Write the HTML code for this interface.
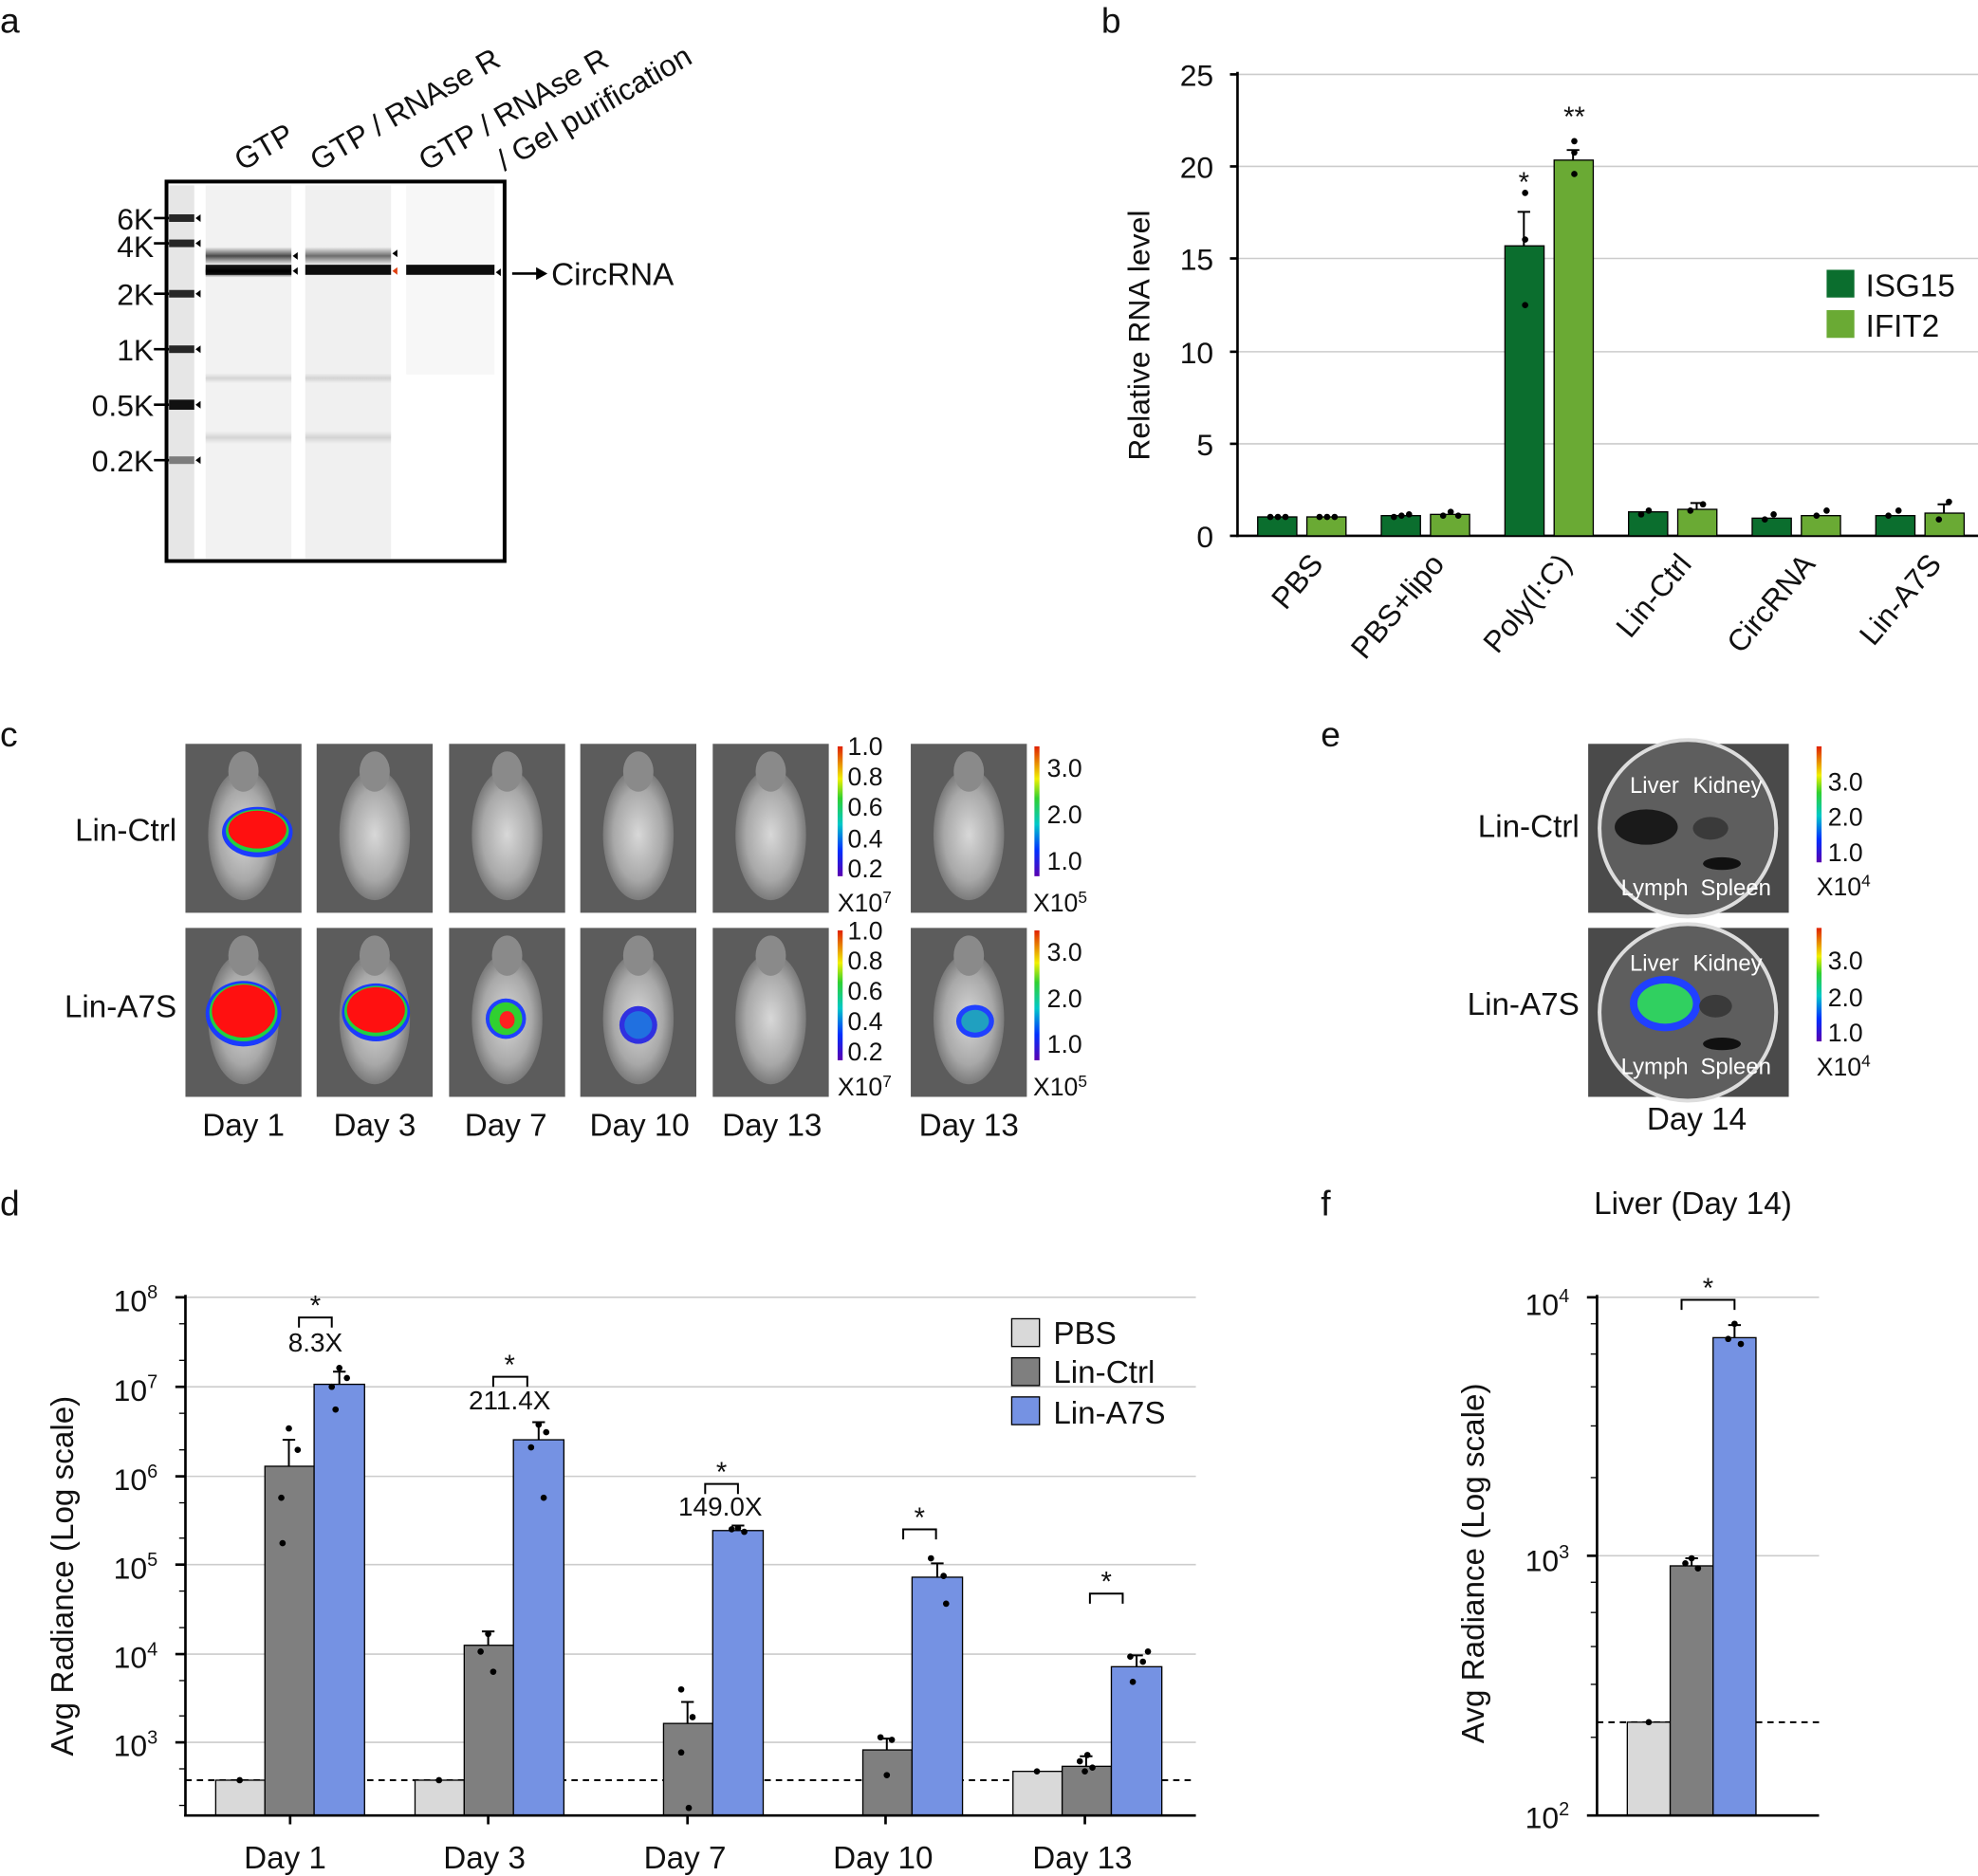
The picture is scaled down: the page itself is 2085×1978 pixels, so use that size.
<!DOCTYPE html>
<html><head><meta charset="utf-8"><style>
html,body{margin:0;padding:0;background:#fff}
svg{display:block}
text{font-family:"Liberation Sans",sans-serif;fill:#111}
</style></head><body>
<svg width="2085" height="1978" viewBox="0 0 1568 1488" preserveAspectRatio="none" xmlns="http://www.w3.org/2000/svg">
<defs>
<linearGradient id="cb" x1="0" y1="1" x2="0" y2="0">
<stop offset="0" stop-color="#5a00b0"/><stop offset="0.2" stop-color="#0030ff"/><stop offset="0.4" stop-color="#00c8c8"/><stop offset="0.6" stop-color="#30d030"/><stop offset="0.75" stop-color="#f0f000"/><stop offset="1" stop-color="#e02000"/>
</linearGradient>
<radialGradient id="mouse" cx="0.5" cy="0.5" r="0.5"><stop offset="0" stop-color="#d8d8d8"/><stop offset="0.7" stop-color="#a8a8a8"/><stop offset="1" stop-color="#7a7a7a"/></radialGradient>
<linearGradient id="band" x1="0" y1="0" x2="0" y2="1"><stop offset="0" stop-color="#000" stop-opacity="0"/><stop offset="0.5" stop-color="#000"/><stop offset="1" stop-color="#000" stop-opacity="0"/></linearGradient>
</defs>

<!-- ===== Panel a ===== -->
<text x="0" y="26" font-size="28">a</text>
<rect x="132" y="144" width="268" height="301" fill="#fff" stroke="#000" stroke-width="3"/>
<rect x="134" y="147" width="20" height="296" fill="#e6e6e6"/>
<rect x="163" y="147" width="68" height="296" fill="#f2f2f2"/>
<rect x="242" y="147" width="68" height="296" fill="#f0f0f0"/>
<rect x="322" y="147" width="70" height="150" fill="#f7f7f7"/>
<!-- ladder bands -->
<g fill="#111">
<rect x="134" y="170" width="20" height="6" opacity="0.9"/>
<rect x="134" y="190" width="20" height="6" opacity="0.9"/>
<rect x="134" y="230" width="20" height="6" opacity="0.9"/>
<rect x="134" y="274" width="20" height="6" opacity="0.9"/>
<rect x="134" y="317" width="20" height="8"/>
<rect x="134" y="362" width="20" height="6" opacity="0.5"/>
</g>
<g fill="#000">
<rect x="163" y="196" width="68" height="14" fill="url(#band)" opacity="0.7"/>
<rect x="163" y="210" width="68" height="10" fill="url(#band)"/>
<rect x="163" y="210" width="68" height="8" opacity="0.9"/>
<rect x="242" y="196" width="68" height="14" fill="url(#band)" opacity="0.55"/>
<rect x="242" y="210" width="68" height="8" opacity="0.95"/>
<rect x="322" y="210" width="70" height="8" opacity="0.95"/>
<rect x="163" y="296" width="68" height="8" fill="url(#band)" opacity="0.12"/>
<rect x="163" y="342" width="68" height="10" fill="url(#band)" opacity="0.12"/>
<rect x="242" y="296" width="68" height="8" fill="url(#band)" opacity="0.12"/>
<rect x="242" y="342" width="68" height="10" fill="url(#band)" opacity="0.12"/>
</g>
<g fill="#000">
<polygon points="155,173 159,170 159,176"/><polygon points="155,193 159,190 159,196"/><polygon points="155,233 159,230 159,236"/><polygon points="155,277 159,274 159,280"/><polygon points="155,321 159,318 159,324"/><polygon points="155,365 159,362 159,368"/>
<polygon points="232,203 236,200 236,206"/><polygon points="232,215 236,212 236,218"/>
<polygon points="311,201 315,198 315,204"/><polygon points="311,215 315,212 315,218" fill="#e04010"/>
<polygon points="393,216 397,213 397,219"/>
</g>
<g font-size="24" text-anchor="end">
<text x="122" y="182">6K</text><text x="122" y="204">4K</text><text x="122" y="242">2K</text><text x="122" y="286">1K</text><text x="122" y="330">0.5K</text><text x="122" y="374">0.2K</text>
</g>
<g stroke="#000" stroke-width="2"><line x1="122" y1="173" x2="134" y2="173"/><line x1="122" y1="193" x2="134" y2="193"/><line x1="122" y1="233" x2="134" y2="233"/><line x1="122" y1="277" x2="134" y2="277"/><line x1="122" y1="321" x2="134" y2="321"/><line x1="122" y1="365" x2="134" y2="365"/></g>
<g font-size="24">
<text transform="translate(192,136) rotate(-30)">GTP</text>
<text transform="translate(252,136) rotate(-30)">GTP / RNAse R</text>
<text transform="translate(338,136) rotate(-30)">GTP / RNAse R</text>
<text transform="translate(400,136) rotate(-30)">/ Gel purification</text>
</g>
<line x1="406" y1="217" x2="428" y2="217" stroke="#000" stroke-width="2"/>
<polygon points="434,217 425,212 425,222" fill="#000"/>
<text x="437" y="226" font-size="25">CircRNA</text>

<!-- ===== Panel b ===== -->
<text x="873" y="26" font-size="28">b</text>
<g stroke="#ccc" stroke-width="1.2">
<line x1="981" y1="59" x2="1568" y2="59"/><line x1="981" y1="132" x2="1568" y2="132"/><line x1="981" y1="205" x2="1568" y2="205"/><line x1="981" y1="279" x2="1568" y2="279"/><line x1="981" y1="352" x2="1568" y2="352"/>
</g>
<g stroke="#000" stroke-width="2"><line x1="981" y1="57" x2="981" y2="426"/><line x1="980" y1="425" x2="1568" y2="425"/>
<line x1="975" y1="59" x2="981" y2="59"/><line x1="975" y1="132" x2="981" y2="132"/><line x1="975" y1="205" x2="981" y2="205"/><line x1="975" y1="279" x2="981" y2="279"/><line x1="975" y1="352" x2="981" y2="352"/><line x1="975" y1="425" x2="981" y2="425"/></g>
<g font-size="24" text-anchor="end">
<text x="962" y="68">25</text><text x="962" y="141">20</text><text x="962" y="214">15</text><text x="962" y="288">10</text><text x="962" y="361">5</text><text x="962" y="434">0</text>
</g>
<text transform="translate(911,266) rotate(-90)" font-size="24" text-anchor="middle">Relative RNA level</text>
<g stroke="#000" stroke-width="1">
<rect x="997" y="410" width="31" height="15" fill="#0b6e2e"/><rect x="1036" y="410" width="31" height="15" fill="#6aaa34"/>
<rect x="1095" y="409" width="31" height="16" fill="#0b6e2e"/><rect x="1134" y="408" width="31" height="17" fill="#6aaa34"/>
<rect x="1193" y="195" width="31" height="230" fill="#0b6e2e"/><rect x="1232" y="127" width="31" height="298" fill="#6aaa34"/>
<rect x="1291" y="406" width="31" height="19" fill="#0b6e2e"/><rect x="1330" y="404" width="31" height="21" fill="#6aaa34"/>
<rect x="1389" y="411" width="31" height="14" fill="#0b6e2e"/><rect x="1428" y="409" width="31" height="16" fill="#6aaa34"/>
<rect x="1487" y="409" width="31" height="16" fill="#0b6e2e"/><rect x="1526" y="407" width="31" height="18" fill="#6aaa34"/>
</g>
<g stroke="#000" stroke-width="1.5" fill="none">
<path d="M1208,195 V168 M1203,168 H1213"/><path d="M1247,127 V119 M1242,119 H1252"/>
<path d="M1345,404 V399 M1340,399 H1350"/><path d="M1541,407 V400 M1536,400 H1546"/>
</g>
<g fill="#000">
<circle cx="1007" cy="410" r="2.5"/><circle cx="1013" cy="410" r="2.5"/><circle cx="1019" cy="410" r="2.5"/>
<circle cx="1046" cy="410" r="2.5"/><circle cx="1052" cy="410" r="2.5"/><circle cx="1058" cy="410" r="2.5"/>
<circle cx="1105" cy="410" r="2.5"/><circle cx="1111" cy="409" r="2.5"/><circle cx="1117" cy="408" r="2.5"/>
<circle cx="1144" cy="409" r="2.5"/><circle cx="1150" cy="406" r="2.5"/><circle cx="1156" cy="409" r="2.5"/>
<circle cx="1209" cy="242" r="2.5"/><circle cx="1209" cy="190" r="2.5"/><circle cx="1209" cy="153" r="2.5"/>
<circle cx="1248" cy="138" r="2.5"/><circle cx="1248" cy="121" r="2.5"/><circle cx="1248" cy="112" r="2.5"/>
<circle cx="1301" cy="408" r="2.5"/><circle cx="1307" cy="405" r="2.5"/><circle cx="1340" cy="405" r="2.5"/><circle cx="1350" cy="400" r="2.5"/>
<circle cx="1399" cy="412" r="2.5"/><circle cx="1406" cy="408" r="2.5"/><circle cx="1440" cy="409" r="2.5"/><circle cx="1448" cy="405" r="2.5"/>
<circle cx="1497" cy="409" r="2.5"/><circle cx="1505" cy="405" r="2.5"/><circle cx="1537" cy="412" r="2.5"/><circle cx="1545" cy="398" r="2.5"/>
</g>
<text x="1208" y="152" font-size="22" text-anchor="middle">*</text>
<text x="1248" y="100" font-size="22" text-anchor="middle">**</text>
<rect x="1448" y="214" width="22" height="22" fill="#0b6e2e"/><text x="1479" y="235" font-size="25">ISG15</text>
<rect x="1448" y="246" width="22" height="22" fill="#6aaa34"/><text x="1479" y="267" font-size="25">IFIT2</text>
<g font-size="24" text-anchor="end">
<text transform="translate(1050,448) rotate(-50)">PBS</text>
<text transform="translate(1146,448) rotate(-50)">PBS+lipo</text>
<text transform="translate(1247,448) rotate(-50)">Poly(I:C)</text>
<text transform="translate(1342,448) rotate(-50)">Lin-Ctrl</text>
<text transform="translate(1440,448) rotate(-50)">CircRNA</text>
<text transform="translate(1540,448) rotate(-50)">Lin-A7S</text>
</g>

<!-- ===== Panel c ===== -->
<text x="0" y="592" font-size="28">c</text>
<g>
<!-- generic mouse images -->
<g id="m1">
<rect x="147" y="590" width="92" height="134" fill="#5c5c5c"/>
<ellipse cx="193" cy="662" rx="28" ry="52" fill="url(#mouse)"/>
<ellipse cx="193" cy="612" rx="12" ry="16" fill="#8a8a8a"/>
</g>
<use href="#m1" x="104"/><use href="#m1" x="209"/><use href="#m1" x="313"/><use href="#m1" x="418"/><use href="#m1" x="575"/>
<use href="#m1" y="146"/><use href="#m1" x="104" y="146"/><use href="#m1" x="209" y="146"/><use href="#m1" x="313" y="146"/><use href="#m1" x="418" y="146"/><use href="#m1" x="575" y="146"/>
<!-- signals -->
<ellipse cx="204" cy="660" rx="28" ry="20" fill="#1b3bff"/><ellipse cx="204" cy="659" rx="25" ry="17" fill="#20d040"/><ellipse cx="204" cy="658" rx="23" ry="15" fill="#ff1010"/>
<ellipse cx="193" cy="804" rx="30" ry="26" fill="#1b3bff"/><ellipse cx="193" cy="803" rx="27" ry="23" fill="#20d040"/><ellipse cx="193" cy="802" rx="25" ry="21" fill="#ff1010"/>
<ellipse cx="298" cy="803" rx="27" ry="23" fill="#1b3bff"/><ellipse cx="298" cy="802" rx="25" ry="20" fill="#20d040"/><ellipse cx="298" cy="801" rx="23" ry="18" fill="#ff1010"/>
<ellipse cx="401" cy="808" rx="16" ry="16" fill="#2040ff"/><ellipse cx="401" cy="808" rx="13" ry="13" fill="#30d030"/><ellipse cx="402" cy="809" rx="6" ry="7" fill="#ff2020"/>
<ellipse cx="506" cy="813" rx="15" ry="15" fill="#3030e0"/><ellipse cx="506" cy="813" rx="11" ry="11" fill="#2070e0"/>
<ellipse cx="773" cy="810" rx="15" ry="13" fill="#2040ff"/><ellipse cx="773" cy="810" rx="11" ry="9" fill="#20a0c0"/>
</g>
<g>
<rect x="664" y="592" width="4" height="103" fill="url(#cb)"/>
<rect x="664" y="738" width="4" height="103" fill="url(#cb)"/>
<rect x="820" y="592" width="4" height="103" fill="url(#cb)"/>
<rect x="820" y="738" width="4" height="103" fill="url(#cb)"/>
</g>
<g font-size="20">
<text x="672" y="599">1.0</text><text x="672" y="623">0.8</text><text x="672" y="647">0.6</text><text x="672" y="672">0.4</text><text x="672" y="696">0.2</text><text x="664" y="723">X10<tspan font-size="13" dy="-7">7</tspan></text>
<text x="672" y="745">1.0</text><text x="672" y="769">0.8</text><text x="672" y="793">0.6</text><text x="672" y="817">0.4</text><text x="672" y="841">0.2</text><text x="664" y="869">X10<tspan font-size="13" dy="-7">7</tspan></text>
<text x="830" y="616">3.0</text><text x="830" y="653">2.0</text><text x="830" y="690">1.0</text><text x="819" y="723">X10<tspan font-size="13" dy="-7">5</tspan></text>
<text x="830" y="762">3.0</text><text x="830" y="799">2.0</text><text x="830" y="835">1.0</text><text x="819" y="869">X10<tspan font-size="13" dy="-7">5</tspan></text>
</g>
<g font-size="25" text-anchor="end"><text x="140" y="667">Lin-Ctrl</text><text x="140" y="807">Lin-A7S</text></g>
<g font-size="25" text-anchor="middle">
<text x="193" y="901">Day 1</text><text x="297" y="901">Day 3</text><text x="401" y="901">Day 7</text><text x="507" y="901">Day 10</text><text x="612" y="901">Day 13</text><text x="768" y="901">Day 13</text>
</g>

<!-- ===== Panel e ===== -->
<text x="1047" y="592" font-size="28">e</text>
<rect x="1259" y="590" width="159" height="134" fill="#4a4a4a"/>
<rect x="1259" y="736" width="159" height="134" fill="#4a4a4a"/>
<circle cx="1338" cy="657" r="70" fill="#5e5e5e" stroke="#ddd" stroke-width="3"/>
<circle cx="1338" cy="803" r="70" fill="#5e5e5e" stroke="#ddd" stroke-width="3"/>
<ellipse cx="1305" cy="656" rx="25" ry="14" fill="#1a1a1a"/><ellipse cx="1356" cy="657" rx="14" ry="9" fill="#3a3a3a"/>
<ellipse cx="1365" cy="685" rx="15" ry="5" fill="#111"/>
<ellipse cx="1320" cy="796" rx="28" ry="22" fill="#2040ff"/><ellipse cx="1320" cy="796" rx="22" ry="16" fill="#30d060"/>
<ellipse cx="1365" cy="828" rx="15" ry="5" fill="#111"/><ellipse cx="1360" cy="798" rx="13" ry="9" fill="#3a3a3a"/>
<g font-size="18" style="fill:#fff">
<text x="1292" y="629" style="fill:#fff">Liver</text><text x="1342" y="629" style="fill:#fff">Kidney</text>
<text x="1285" y="710" style="fill:#fff">Lymph</text><text x="1348" y="710" style="fill:#fff">Spleen</text>
<text x="1292" y="770" style="fill:#fff">Liver</text><text x="1342" y="770" style="fill:#fff">Kidney</text>
<text x="1285" y="852" style="fill:#fff">Lymph</text><text x="1348" y="852" style="fill:#fff">Spleen</text>
</g>
<rect x="1440" y="592" width="4" height="92" fill="url(#cb)"/>
<rect x="1440" y="736" width="4" height="90" fill="url(#cb)"/>
<g font-size="20">
<text x="1449" y="627">3.0</text><text x="1449" y="655">2.0</text><text x="1449" y="683">1.0</text><text x="1440" y="710">X10<tspan font-size="13" dy="-7">4</tspan></text>
<text x="1449" y="769">3.0</text><text x="1449" y="798">2.0</text><text x="1449" y="826">1.0</text><text x="1440" y="853">X10<tspan font-size="13" dy="-7">4</tspan></text>
</g>
<g font-size="25" text-anchor="end"><text x="1252" y="664">Lin-Ctrl</text><text x="1252" y="805">Lin-A7S</text></g>
<text x="1345" y="896" font-size="25" text-anchor="middle">Day 14</text>

<!-- ===== Panel d ===== -->
<text x="0" y="964" font-size="28">d</text>
<g stroke="#ccc" stroke-width="1.2">
<line x1="147" y1="1029" x2="948" y2="1029"/><line x1="147" y1="1100" x2="948" y2="1100"/><line x1="147" y1="1171" x2="948" y2="1171"/><line x1="147" y1="1241" x2="948" y2="1241"/><line x1="147" y1="1312" x2="948" y2="1312"/><line x1="147" y1="1382" x2="948" y2="1382"/>
</g>
<line x1="147" y1="1412" x2="948" y2="1412" stroke="#000" stroke-width="1.5" stroke-dasharray="5,4"/>
<g stroke="#000" stroke-width="1">
<rect x="171" y="1412" width="39" height="28" fill="#d9d9d9"/><rect x="210" y="1163" width="39" height="277" fill="#7f7f7f"/><rect x="249" y="1098" width="40" height="342" fill="#7592e3"/>
<rect x="329" y="1412" width="39" height="28" fill="#d9d9d9"/><rect x="368" y="1305" width="39" height="135" fill="#7f7f7f"/><rect x="407" y="1142" width="40" height="298" fill="#7592e3"/>
<rect x="526" y="1367" width="39" height="73" fill="#7f7f7f"/><rect x="565" y="1214" width="40" height="226" fill="#7592e3"/>
<rect x="684" y="1388" width="39" height="52" fill="#7f7f7f"/><rect x="723" y="1251" width="40" height="189" fill="#7592e3"/>
<rect x="803" y="1405" width="39" height="35" fill="#d9d9d9"/><rect x="842" y="1401" width="39" height="39" fill="#7f7f7f"/><rect x="881" y="1322" width="40" height="118" fill="#7592e3"/>
</g>
<g stroke="#000" stroke-width="1.5" fill="none">
<path d="M229,1163 V1142 M224,1142 H234"/><path d="M269,1098 V1088 M264,1088 H274"/>
<path d="M387,1305 V1294 M382,1294 H392"/><path d="M427,1142 V1128 M422,1128 H432"/>
<path d="M545,1367 V1350 M540,1350 H550"/><path d="M585,1214 V1210 M580,1210 H590"/>
<path d="M703,1388 V1379 M698,1379 H708"/><path d="M743,1251 V1240 M738,1240 H748"/>
<path d="M861,1401 V1393 M856,1393 H866"/><path d="M901,1322 V1313 M896,1313 H906"/>
<path d="M237,1053 V1045 H263 V1053"/><path d="M391,1100 V1092 H418 V1100"/><path d="M559,1185 V1177 H585 V1185"/><path d="M716,1221 V1213 H742 V1221"/><path d="M864,1272 V1264 H890 V1272"/>
</g>
<g fill="#000">
<circle cx="190" cy="1412" r="2.5"/><circle cx="348" cy="1412" r="2.5"/><circle cx="822" cy="1405" r="2.5"/>
<circle cx="229" cy="1133" r="2.5"/><circle cx="223" cy="1188" r="2.5"/><circle cx="224" cy="1224" r="2.5"/><circle cx="236" cy="1150" r="2.5"/>
<circle cx="269" cy="1085" r="2.5"/><circle cx="263" cy="1100" r="2.5"/><circle cx="275" cy="1093" r="2.5"/><circle cx="266" cy="1118" r="2.5"/>
<circle cx="387" cy="1296" r="2.5"/><circle cx="381" cy="1310" r="2.5"/><circle cx="391" cy="1326" r="2.5"/>
<circle cx="427" cy="1130" r="2.5"/><circle cx="421" cy="1148" r="2.5"/><circle cx="433" cy="1136" r="2.5"/><circle cx="431" cy="1188" r="2.5"/>
<circle cx="540" cy="1340" r="2.5"/><circle cx="549" cy="1362" r="2.5"/><circle cx="540" cy="1390" r="2.5"/><circle cx="546" cy="1434" r="2.5"/>
<circle cx="580" cy="1213" r="2.5"/><circle cx="590" cy="1215" r="2.5"/><circle cx="585" cy="1212" r="2.5"/>
<circle cx="698" cy="1378" r="2.5"/><circle cx="707" cy="1380" r="2.5"/><circle cx="703" cy="1408" r="2.5"/>
<circle cx="738" cy="1236" r="2.5"/><circle cx="748" cy="1250" r="2.5"/><circle cx="750" cy="1272" r="2.5"/>
<circle cx="856" cy="1397" r="2.5"/><circle cx="862" cy="1392" r="2.5"/><circle cx="866" cy="1402" r="2.5"/><circle cx="860" cy="1405" r="2.5"/>
<circle cx="896" cy="1314" r="2.5"/><circle cx="906" cy="1318" r="2.5"/><circle cx="898" cy="1334" r="2.5"/><circle cx="910" cy="1310" r="2.5"/>
</g>
<g font-size="22" text-anchor="middle">
<text x="250" y="1043">*</text><text x="404" y="1090">*</text><text x="572" y="1175">*</text><text x="729" y="1211">*</text><text x="877" y="1262">*</text>
</g>
<g font-size="21" text-anchor="middle">
<text x="250" y="1072">8.3X</text><text x="404" y="1118">211.4X</text><text x="571" y="1202">149.0X</text>
</g>
<g stroke="#000" stroke-width="2"><line x1="147" y1="1027" x2="147" y2="1441"/><line x1="146" y1="1440" x2="948" y2="1440"/>
<line x1="139" y1="1029" x2="147" y2="1029"/><line x1="139" y1="1100" x2="147" y2="1100"/><line x1="139" y1="1171" x2="147" y2="1171"/><line x1="139" y1="1241" x2="147" y2="1241"/><line x1="139" y1="1312" x2="147" y2="1312"/><line x1="139" y1="1382" x2="147" y2="1382"/>
<line x1="230" y1="1440" x2="230" y2="1447"/><line x1="387" y1="1440" x2="387" y2="1447"/><line x1="545" y1="1440" x2="545" y2="1447"/><line x1="702" y1="1440" x2="702" y2="1447"/><line x1="860" y1="1440" x2="860" y2="1447"/>
</g>
<g stroke="#000" stroke-width="1">
<line x1="142" y1="1050" x2="147" y2="1050"/><line x1="142" y1="1079" x2="147" y2="1079"/><line x1="142" y1="1121" x2="147" y2="1121"/><line x1="142" y1="1150" x2="147" y2="1150"/><line x1="142" y1="1192" x2="147" y2="1192"/><line x1="142" y1="1220" x2="147" y2="1220"/><line x1="142" y1="1262" x2="147" y2="1262"/><line x1="142" y1="1291" x2="147" y2="1291"/><line x1="142" y1="1333" x2="147" y2="1333"/><line x1="142" y1="1361" x2="147" y2="1361"/><line x1="142" y1="1403" x2="147" y2="1403"/><line x1="142" y1="1432" x2="147" y2="1432"/>
</g>
<g font-size="24" text-anchor="end">
<text x="125" y="1040">10<tspan font-size="15" dy="-10">8</tspan></text>
<text x="125" y="1111">10<tspan font-size="15" dy="-10">7</tspan></text>
<text x="125" y="1182">10<tspan font-size="15" dy="-10">6</tspan></text>
<text x="125" y="1252">10<tspan font-size="15" dy="-10">5</tspan></text>
<text x="125" y="1323">10<tspan font-size="15" dy="-10">4</tspan></text>
<text x="125" y="1393">10<tspan font-size="15" dy="-10">3</tspan></text>
</g>
<text transform="translate(58,1250) rotate(-90)" font-size="25" text-anchor="middle">Avg Radiance (Log scale)</text>
<g font-size="25" text-anchor="middle">
<text x="226" y="1482">Day 1</text><text x="384" y="1482">Day 3</text><text x="543" y="1482">Day 7</text><text x="700" y="1482">Day 10</text><text x="858" y="1482">Day 13</text>
</g>
<g stroke="#000" stroke-width="1">
<rect x="802" y="1046" width="22" height="22" fill="#d9d9d9"/><rect x="802" y="1077" width="22" height="22" fill="#7f7f7f"/><rect x="802" y="1108" width="22" height="22" fill="#7592e3"/>
</g>
<g font-size="25"><text x="835" y="1066">PBS</text><text x="835" y="1097">Lin-Ctrl</text><text x="835" y="1129">Lin-A7S</text></g>

<!-- ===== Panel f ===== -->
<text x="1047" y="964" font-size="28">f</text>
<text x="1342" y="963" font-size="25" text-anchor="middle">Liver (Day 14)</text>
<g stroke="#ccc" stroke-width="1.2"><line x1="1266" y1="1029" x2="1442" y2="1029"/><line x1="1266" y1="1234" x2="1442" y2="1234"/></g>
<line x1="1266" y1="1366" x2="1442" y2="1366" stroke="#000" stroke-width="1.5" stroke-dasharray="5,4"/>
<g stroke="#000" stroke-width="1">
<rect x="1290" y="1366" width="34" height="74" fill="#d9d9d9"/><rect x="1324" y="1242" width="34" height="198" fill="#7f7f7f"/><rect x="1358" y="1061" width="34" height="379" fill="#7592e3"/>
</g>
<g stroke="#000" stroke-width="1.5" fill="none"><path d="M1341,1242 V1236 M1336,1236 H1346"/><path d="M1375,1061 V1051 M1370,1051 H1380"/><path d="M1333,1039 V1031 H1375 V1039"/></g>
<g fill="#000"><circle cx="1307" cy="1366" r="2.5"/><circle cx="1336" cy="1240" r="2.5"/><circle cx="1341" cy="1236" r="2.5"/><circle cx="1346" cy="1244" r="2.5"/>
<circle cx="1370" cy="1062" r="2.5"/><circle cx="1375" cy="1050" r="2.5"/><circle cx="1380" cy="1066" r="2.5"/></g>
<text x="1354" y="1029" font-size="22" text-anchor="middle">*</text>
<g stroke="#000" stroke-width="2"><line x1="1266" y1="1027" x2="1266" y2="1441"/><line x1="1265" y1="1440" x2="1442" y2="1440"/>
<line x1="1258" y1="1029" x2="1266" y2="1029"/><line x1="1258" y1="1234" x2="1266" y2="1234"/><line x1="1258" y1="1440" x2="1266" y2="1440"/></g>
<g stroke="#000" stroke-width="1">
<line x1="1261" y1="1050" x2="1266" y2="1050"/><line x1="1261" y1="1074" x2="1266" y2="1074"/><line x1="1261" y1="1100" x2="1266" y2="1100"/><line x1="1261" y1="1131" x2="1266" y2="1131"/><line x1="1261" y1="1172" x2="1266" y2="1172"/>
<line x1="1261" y1="1255" x2="1266" y2="1255"/><line x1="1261" y1="1279" x2="1266" y2="1279"/><line x1="1261" y1="1306" x2="1266" y2="1306"/><line x1="1261" y1="1336" x2="1266" y2="1336"/><line x1="1261" y1="1378" x2="1266" y2="1378"/>
</g>
<g font-size="24" text-anchor="end">
<text x="1244" y="1043">10<tspan font-size="15" dy="-10">4</tspan></text>
<text x="1244" y="1246">10<tspan font-size="15" dy="-10">3</tspan></text>
<text x="1244" y="1450">10<tspan font-size="15" dy="-10">2</tspan></text>
</g>
<text transform="translate(1176,1240) rotate(-90)" font-size="25" text-anchor="middle">Avg Radiance (Log scale)</text>
</svg>
</body></html>
